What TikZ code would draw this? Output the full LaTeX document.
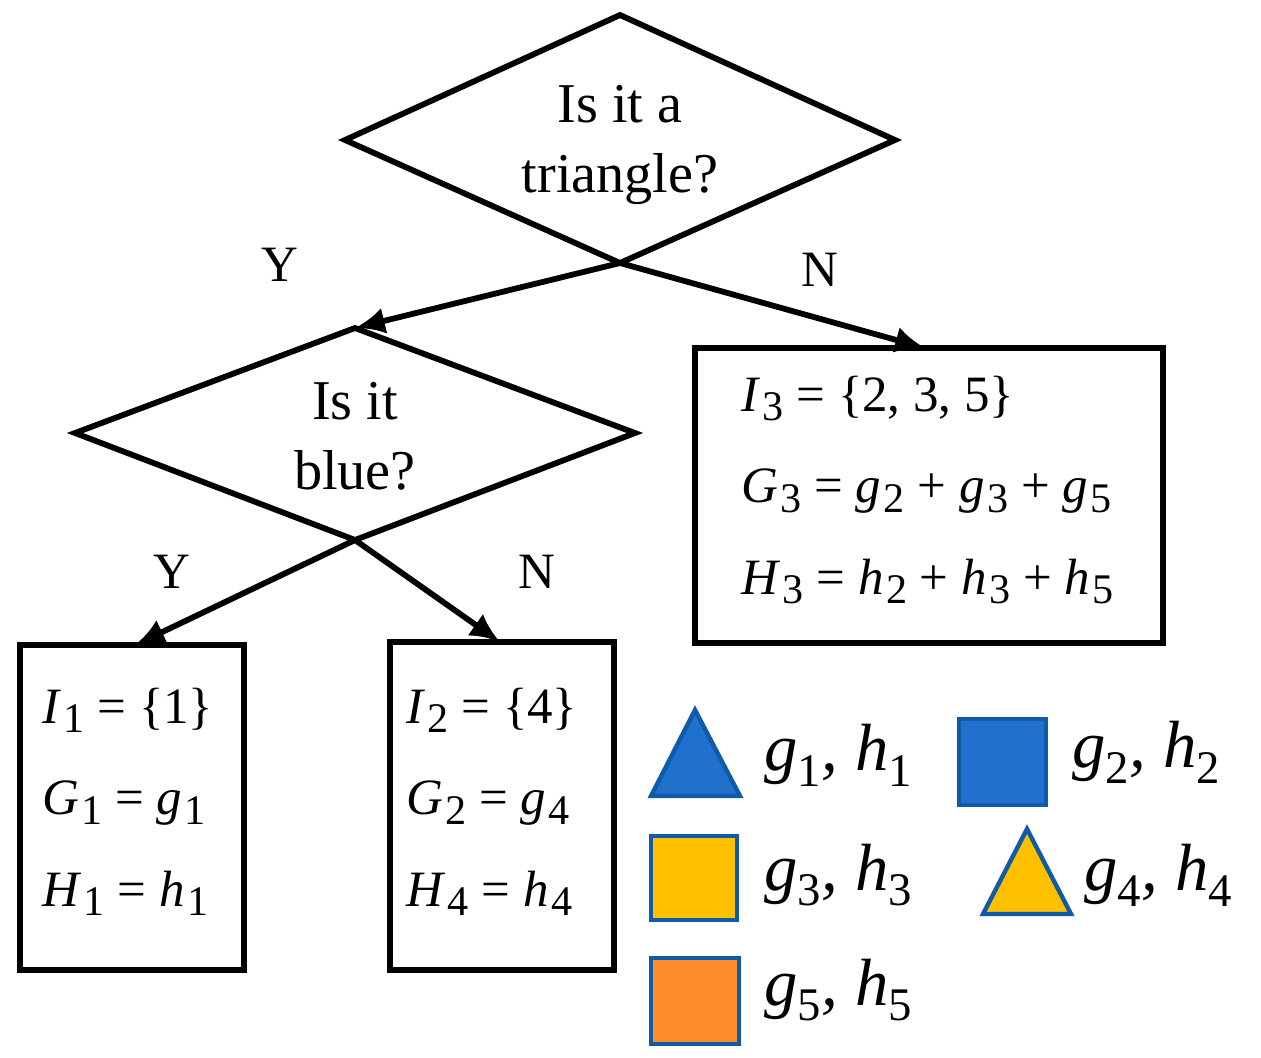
\documentclass[tikz,border=0pt]{standalone}
\usepackage{fontspec}
\setmainfont{Liberation Serif}
\usetikzlibrary{arrows.meta}
\newcommand{\vi}[2]{\textit{#1}\kern0.05em\raisebox{-0.4ex}{\fontsize{24}{24}\selectfont #2}}
\begin{document}
\begin{tikzpicture}[x=0.02cm,y=-0.02cm,
  shp/.style={line width=3.3pt,black},
  arr/.style={line width=3.3pt,-{Latex[length=17pt,width=15pt]}},
  big/.style={font=\fontsize{32}{40}\selectfont,align=center},
  lab/.style={font=\fontsize{29}{30}\selectfont},
  box/.style={font=\fontsize{29}{52}\selectfont,align=left,anchor=north west},
  leg/.style={font=\fontsize{38}{38}\selectfont\itshape,anchor=west},
  bl/.style={line width=2.5pt,draw={rgb,255:red,16;green,90;blue,170}}]
\useasboundingbox (0,0) rectangle (1261,1058);
% diamonds
\draw[shp] (620,15) -- (895,140) -- (620,263) -- (345,140) -- cycle;
\node[big] (q1) at (620,145) {Is it a\\triangle?};
\draw[shp] (355,328) -- (635,433) -- (355,540) -- (75,433) -- cycle;
\node[big] (q2) at (355,436) {Is it\\blue?};
\coordinate (b1) at (620,263); \coordinate (t2) at (355,328);
\coordinate (b2) at (355,540);
% boxes
\draw[shp] (695,348) rectangle (1163,643);
\draw[shp] (20,645) rectangle (244,970);
\draw[shp] (390,642) rectangle (614,970);
\coordinate (tN) at (925,348); \coordinate (tA) at (135,645); \coordinate (tB) at (500,642);
\draw[arr] (b1) -- (t2);
\draw[arr] (b1) -- (tN);
\draw[arr] (b2) -- (tA);
\draw[arr] (b2) -- (tB);
\node[lab] (y1) at (280,265) {Y};
\node[lab] (n1) at (820,270) {N};
\node[lab] (y2) at (172,572) {Y};
\node[lab] (n2) at (537,572) {N};
\node[box] (bN) at (735,370) {\vi{I}{3} = \{2, 3, 5\}\\ \vi{G}{3} = \vi{g}{2} + \vi{g}{3} + \vi{g}{5}\\ \vi{H}{3} = \vi{h}{2} + \vi{h}{3} + \vi{h}{5}};
\node[box] (bA) at (36,682) {\vi{I}{1} = \{1\}\\ \vi{G}{1} = \vi{g}{1}\\ \vi{H}{1} = \vi{h}{1}};
\node[box] (bB) at (400,682) {\vi{I}{2} = \{4\}\\ \vi{G}{2} = \vi{g}{4}\\ \vi{H}{4} = \vi{h}{4}};
% legend
\definecolor{lb}{RGB}{32,112,205}\definecolor{ly}{RGB}{255,192,0}\definecolor{lo}{RGB}{255,140,40}
\draw[bl,fill=lb] (695,710) -- (740,796) -- (651,796) -- cycle;
\draw[bl,fill=lb] (959,719) rectangle (1046,805);
\draw[bl,fill=ly] (651,836) rectangle (737,920);
\draw[bl,fill=ly] (1027,829) -- (1071,914) -- (983,914) -- cycle;
\draw[bl,fill=lo] (651,958) rectangle (739,1044);
\node[leg] (l1) at (758,755) {g\textsubscript{\upshape 1}, h\textsubscript{\upshape 1}};
\node[leg] (l2) at (1066,752) {g\textsubscript{\upshape 2}, h\textsubscript{\upshape 2}};
\node[leg] (l3) at (758,875) {g\textsubscript{\upshape 3}, h\textsubscript{\upshape 3}};
\node[leg] (l4) at (1078,875) {g\textsubscript{\upshape 4}, h\textsubscript{\upshape 4}};
\node[leg] (l5) at (758,990) {g\textsubscript{\upshape 5}, h\textsubscript{\upshape 5}};
\end{tikzpicture}
\end{document}
